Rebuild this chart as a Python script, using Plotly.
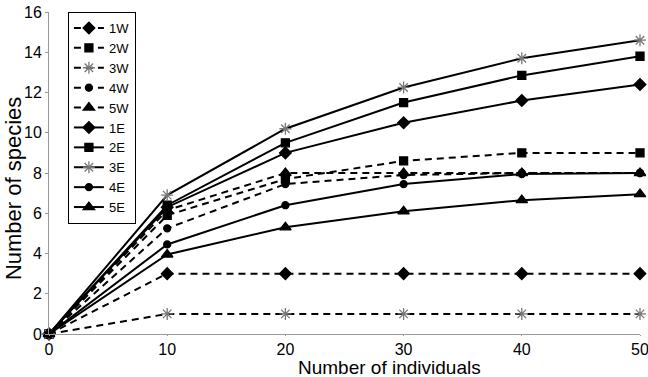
import plotly.graph_objects as go

x_vals = [0, 10, 20, 30, 40, 50]

names = ["1W", "2W", "3W", "4W", "5W", "1E", "2E", "3E", "4E", "5E"]
s1W = [0, 3.0, 3.0, 3.0, 3.0, 3.0]
s2W = [0, 5.9, 7.7, 8.6, 9.0, 9.0]
s3W = [0, 1.0, 1.0, 1.0, 1.0, 1.0]
s4W = [0, 5.25, 7.45, 7.9, 8.0, 8.0]
s5W = [0, 6.15, 8.0, 8.0, 8.0, 8.0]
s1E = [0, 6.3, 9.0, 10.5, 11.6, 12.4]
s2E = [0, 6.4, 9.5, 11.5, 12.85, 13.8]
s3E = [0, 6.9, 10.2, 12.25, 13.7, 14.6]
s4E = [0, 4.45, 6.4, 7.45, 7.95, 8.0]
s5E = [0, 3.95, 5.3, 6.1, 6.65, 6.95]

x_title = "Number of individuals"
y_title = "Number of species"

series = [s1W, s2W, s3W, s4W, s5W, s1E, s2E, s3E, s4E, s5E]
symbols = ["diamond", "square", "asterisk-open", "circle", "triangle-up"] * 2
sizes = [9, 8, 10, 7, 10] * 2

fig = go.Figure()
for i, (nm, ys) in enumerate(zip(names, series)):
    dashed = nm.endswith("W")
    sym = symbols[i]
    mcolor = "#777777" if sym == "asterisk-open" else "black"
    fig.add_trace(go.Scatter(
        x=x_vals, y=ys, name=nm, mode="lines+markers",
        line=dict(color="black", width=2, dash="7px,5px" if dashed else "solid"),
        marker=dict(symbol=sym, size=sizes[i], color=mcolor,
                    line=dict(color=mcolor, width=1.3)),
        cliponaxis=False, legendgroup=nm,
    ))

fig.update_layout(
    width=648, height=377,
    margin=dict(l=49, r=8, t=12, b=43, autoexpand=False),
    paper_bgcolor="white", plot_bgcolor="white",
    font=dict(family="Liberation Sans, Arial, sans-serif", color="black"),
    showlegend=True,
    legend=dict(x=0.032, y=1, xanchor="left", yanchor="top",
                bordercolor="black", borderwidth=1, bgcolor="white",
                font=dict(size=13), tracegroupgap=0,
                itemwidth=30),
    xaxis=dict(range=[0, 50], tickvals=[0, 10, 20, 30, 40, 50],
               showgrid=False, zeroline=False, showline=True,
               linecolor="#999999", linewidth=1, ticks="outside",
               ticklen=1, tickcolor="#999999", automargin=False,
               tickfont=dict(size=16), ticklabeloverflow="allow"),
    yaxis=dict(range=[0, 16], tickvals=list(range(0, 17, 2)),
               showgrid=False, zeroline=False, showline=True,
               linecolor="#999999", linewidth=1, ticks="outside",
               ticklen=3, tickcolor="#999999", automargin=False,
               tickfont=dict(size=16)),
    annotations=[
        dict(text=x_title, xref="paper", yref="paper", x=0.576, y=-0.1025,
             xanchor="center", yanchor="middle", showarrow=False,
             font=dict(size=19)),
        dict(text=y_title, xref="paper", yref="paper", x=-0.061, y=0.453,
             xanchor="center", yanchor="middle", showarrow=False,
             textangle=-90, font=dict(size=22)),
    ],
)

fig.write_html("out.html", config={"displayModeBar": False},
               post_script="document.body.style.margin='0';document.body.style.overflow='hidden';")
